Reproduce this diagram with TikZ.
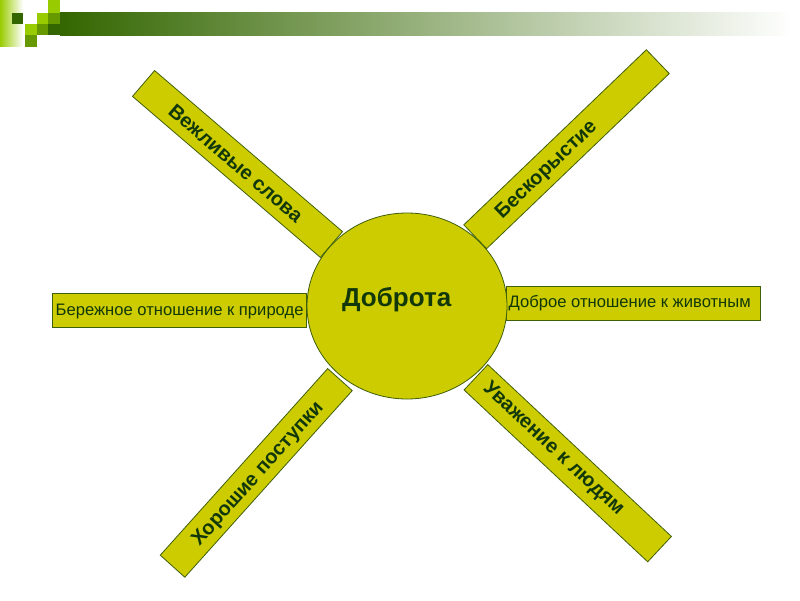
\documentclass[tikz,border=0pt]{standalone}
\usepackage{fontspec}
\setmainfont{Liberation Sans}
\usetikzlibrary{shapes.geometric}
\definecolor{olivey}{HTML}{CCCC00}
\definecolor{edgegreen}{HTML}{3F5F0A}
\definecolor{txtgreen}{HTML}{12380A}
\definecolor{lightg}{HTML}{99CC00}
\definecolor{midg}{HTML}{669900}
\definecolor{darkg}{HTML}{336600}
\begin{document}
\begin{tikzpicture}[x=1pt,y=-1pt,
  raybox/.style={draw=edgegreen, fill=olivey, line width=0.8pt, rectangle, inner sep=0pt, outer sep=0pt},
  raytext/.style={font=\bfseries\fontsize{20}{24}\selectfont, text=txtgreen, inner sep=0pt},
  flattext/.style={font=\fontsize{16.6}{19}\selectfont, text=txtgreen, inner sep=0pt, anchor=west},
  sq/.style={draw=none}]
\useasboundingbox (0,0) rectangle (800,600);
\fill[white] (0,0) rectangle (800,600);
% header decoration
\shade[left color=lightg, right color=white] (0,0) rectangle (23,46);
\shade[left color=darkg, right color=white] (60,12) rectangle (792,35);
\fill[darkg] (12,12.7) rectangle (23.3,23.8);
\fill[lightg] (48.3,0) rectangle (60,12.7);
\fill[lightg] (36.6,12.7) rectangle (48.3,24);
\fill[midg] (48.3,12.7) rectangle (60,24);
\fill[lightg] (25,24) rectangle (36.6,35.3);
\fill[midg] (36.6,24) rectangle (48.3,35.3);
\fill[darkg] (48.3,24) rectangle (60,35.3);
\fill[midg] (25,35.3) rectangle (36.6,47);
% rays
\node[raybox, minimum width=247.5pt, minimum height=34pt, rotate=-40.6] (b1) at (237.5,164) {};
\node[raytext, rotate=-40.6] (t1) at (235.8,163.3) {Вежливые слова};
\node[raybox, minimum width=253pt, minimum height=33pt, rotate=43.8] (b2) at (566.5,149.2) {};
\node[raytext, rotate=43.8] (t2) at (546.7,170) {Бескорыстие};
\node[raybox, minimum width=250.7pt, minimum height=33pt, rotate=48.1] (b3) at (256.25,472.9) {};
\node[raytext, rotate=48.1] (t3) at (258.3,474.2) {Хорошие поступки};
\node[raybox, minimum width=251.5pt, minimum height=34.7pt, rotate=-43.1] (b4) at (567.75,463.2) {};
\node[raytext, rotate=-43.1] (t4) at (553.3,449.2) {Уважение к людям};
\node[raybox, minimum width=254pt, minimum height=34pt] (b5) at (179,310) {};
\node[flattext] (t5) at (55.5,311.5) {Бережное отношение к природе};
\node[raybox, minimum width=253.3pt, minimum height=34pt] (b6) at (633.3,303) {};
\node[flattext] (t6) at (508.5,303) {Доброе отношение к животным};
% centre
\node[ellipse, draw=edgegreen, fill=olivey, line width=0.8pt, minimum width=200pt, minimum height=186pt, inner sep=0pt] (c) at (407,306) {};
\node[font=\bfseries\fontsize{26}{30}\selectfont, text=txtgreen, inner sep=0pt] (ct) at (396.7,300) {Доброта};
\end{tikzpicture}
\end{document}
